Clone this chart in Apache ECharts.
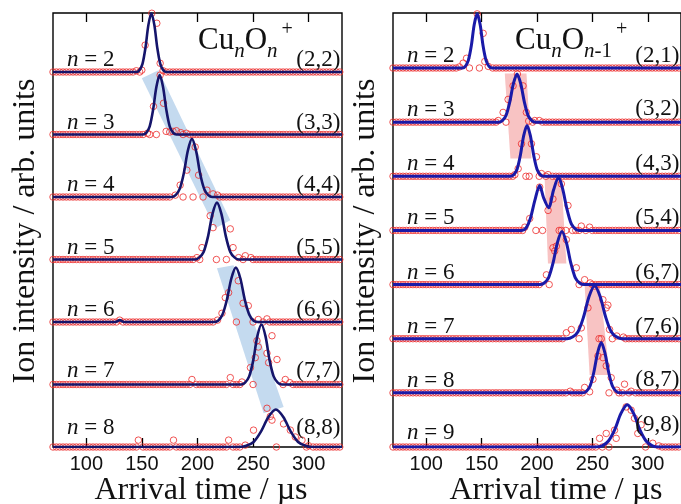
<!DOCTYPE html>
<html>
<head>
<meta charset="utf-8">
<script src="https://cdn.jsdelivr.net/npm/echarts@6/dist/echarts.min.js"></script>
<style>
  html, body { margin: 0; padding: 0; background: #fff; }
  #chart { width: 681px; height: 504px; }
</style>
</head>
<body>
<div id="chart"></div>
<script>
// --- data (arrival time in µs, intensity normalised per trace) ---
const X_TICKS = [100, 150, 200, 250, 300];

// instrument sampling times for the flat parts of each trace
const SAMPLE_T = [70,73,76,79,82,85,88,91,94,97,100,103,106,109,112,115,118,121,124,127,130,
  133,136,139,142,145,148,151,154,157,160,163,166,169,172,175,178,181,184,187,190,193,196,199,
  202,205,208,211,214,217,220,223,226,229,232,235,238,241,244,247,250,253,256,259,262,265,268,
  271,274,277,280,283,286,289,292,295,298,301,304,307,310,313,316,319,322,325,328];

// left panel: CunOn+
const LEFT_N = ["2", "3", "4", "5", "6", "7", "8"];
const LEFT_PAIRS = ["(2,2)", "(3,3)", "(4,4)", "(5,5)", "(6,6)", "(7,7)", "(8,8)"];
const LEFT_DOTS = [
  [[145,0.02],[149.9,0.03],[152.9,0.43],[158.9,0.94],[163.4,0.78],[166.4,0.14],[169,0.02]],
  [[155,0.02],[160.4,0.45],[166.4,0.95],[169.4,0.5],[171.8,0.05],[175,0.04],[178,0.05],[181,0.06],[185,0.03],[190,0.02]],
  [[180,0.03],[184.4,0.19],[190.4,0.43],[197.9,0.8],[201,0.35],[208.5,0.11],[214,0.05],[218,0.03]],
  [[199.5,0.03],[204,0.19],[211.4,0.7],[214,0.51],[229.5,0.49],[232,0.19],[237,0.03],[243,0.06],[248,0.03]],
  [[130,0.03],[218,0.03],[222,0.14],[225,0.39],[228,0.47],[236.7,0.66],[241,0.3],[245.7,0.26],[254.7,0.04],[262.5,0.05]],
  [[195,0.08],[229.5,0.11],[240,0.04],[247.6,0.27],[252,0.43],[253.5,0.7],[254.7,0.6],[262.5,0.5],[264,0.35],[267,0.78],[271.5,0.4],[279,0.08],[283,0.03]],
  [[146.8,0.11],[178.4,0.11],[228,0.11],[243,0.03],[250.4,0.27],[262.5,0.62],[265.5,0.49],[267,0.43],[277.4,0.37],[283.5,0.27],[288,0.16],[294,0.11],[300,0.02]]
];
const LEFT_FITS = [
  [[70,0],[145.2,0],[147.8,0.03],[150.5,0.13],[153.2,0.39],[155.8,0.75],[158.5,0.94],[161.2,0.75],[163.8,0.39],[166.5,0.13],[169.2,0.03],[171.8,0],[330,0]],
  [[70,0],[151,0],[154,0.03],[157,0.13],[160,0.39],[163,0.76],[166,0.95],[169,0.76],[172,0.39],[175,0.13],[178,0.03],[181,0],[330,0]],
  [[70,0],[176.7,0],[180.3,0.03],[184,0.13],[187.7,0.38],[191.3,0.74],[195,0.93],[198.7,0.74],[202.3,0.38],[206,0.13],[209.7,0.03],[213.3,0],[330,0]],
  [[70,0],[197.5,0],[201.5,0.03],[205.5,0.12],[209.5,0.37],[213.5,0.73],[217.5,0.91],[221.5,0.73],[225.5,0.37],[229.5,0.12],[233.5,0.03],[237.5,0],[330,0]],
  [[70,0],[126,0],[130,0.03],[134,0],[214.5,0],[218.5,0.02],[222.5,0.12],[226.5,0.36],[230.5,0.7],[234.5,0.87],[238.5,0.7],[242.5,0.36],[246.5,0.12],[250.5,0.02],[254.5,0],[330,0]],
  [[70,0],[239.2,0],[242.8,0.03],[246.5,0.13],[250.2,0.39],[253.8,0.77],[257.5,0.96],[261.2,0.77],[264.8,0.39],[268.5,0.13],[272.2,0.03],[275.8,0],[330,0]],
  [[70,0],[237.2,0],[243.8,0.02],[250.5,0.08],[257.2,0.25],[263.8,0.48],[270.5,0.6],[277.2,0.48],[283.8,0.25],[290.5,0.08],[297.2,0.02],[303.8,0],[330,0]]
];
const LEFT_BANDS = [
  [[149.9,5.9],[164.9,6.03],[229.5,3.63],[216,3.5]],
  [[217.5,2.86],[232.4,2.91],[277.5,0.64],[259.5,0.54]]
];

// right panel: CunOn-1+
const RIGHT_N = ["2", "3", "4", "5", "6", "7", "8", "9"];
const RIGHT_PAIRS = ["(2,1)", "(3,2)", "(4,3)", "(5,4)", "(6,7)", "(7,6)", "(8,7)", "(9,8)"];
const RIGHT_DOTS = [
  [[130,0.02],[133.3,0.09],[136.4,0.18],[146,1.0],[151.4,0.64],[152.9,0.12],[156,0.03]],
  [[165,0.03],[169.4,0.18],[173.9,0.42],[178.4,0.67],[182.3,0.89],[187.4,0.67],[190.4,0.18],[192.5,0.02],[198,0.03],[202,0.03]],
  [[180,0.03],[183,0.14],[186,0.6],[195,0.6],[199.5,0.36],[204,0.05],[210,0.03]],
  [[189,0.06],[193.4,0.22],[202.4,0.8],[210,0.37],[214.4,0.58],[222,0.86],[228,0.46],[240,0.08],[247.5,0.06]],
  [[208.5,0.18],[214.4,0.68],[216,0.62],[217.5,0.71],[222,1.0],[226.5,0.83],[235.5,0.31],[243,0.09],[248,0.03]],
  [[226.5,0.11],[231,0.17],[240,0.2],[246,0.57],[252,0.97],[259.5,0.72],[262.5,0.57],[264,0.62],[265.5,0.17],[272,0.05],[278,0.03]],
  [[230,0.03],[243,0.1],[247.5,0.02],[250.5,0.25],[255,0.68],[258,1.0],[259.5,0.65],[262.5,0.5],[267,0.28],[272,0.05],[279,0.16],[285,0.03]],
  [[256.5,0.16],[262.5,0.25],[270,0.31],[271.5,0.16],[280.5,0.74],[285,0.68],[288,0.53],[291,0.25],[294,0.41],[304.5,0.07],[310,0.02]]
];
const RIGHT_FITS = [
  [[70,0],[132.7,0],[135.3,0.03],[138,0.14],[140.7,0.41],[143.3,0.8],[146,1.0],[148.7,0.8],[151.3,0.41],[154,0.14],[156.7,0.03],[159.3,0],[330,0]],
  [[70,0],[165.3,0],[168.7,0.03],[172,0.12],[175.3,0.36],[178.7,0.71],[182,0.89],[185.3,0.71],[188.7,0.36],[192,0.12],[195.3,0.03],[198.7,0],[330,0]],
  [[70,0],[176,0],[179,0.03],[182,0.13],[185,0.39],[188,0.75],[191,0.94],[194,0.75],[197,0.39],[200,0.13],[203,0.03],[206,0],[330,0]],
  [[70,0],[186,0],[190,0.04],[194,0.22],[198,0.55],[202.4,0.83],[206,0.6],[210.5,0.42],[215,0.75],[219.5,0.98],[223,0.78],[227,0.4],[231,0.12],[235,0.02],[238,0],[330,0]],
  [[70,0],[202.5,0],[206.5,0.03],[210.5,0.13],[214.5,0.4],[218.5,0.78],[222.5,0.98],[226.5,0.78],[230.5,0.4],[234.5,0.13],[238.5,0.03],[242.5,0],[330,0]],
  [[70,0],[227,0],[232,0.03],[237,0.13],[242,0.4],[247,0.78],[252,0.98],[257,0.78],[262,0.4],[267,0.13],[272,0.03],[277,0],[330,0]],
  [[70,0],[241.3,0],[244.7,0.03],[248,0.13],[251.3,0.38],[254.7,0.74],[258,0.93],[261.3,0.74],[264.7,0.38],[268,0.13],[271.3,0.03],[274.7,0],[330,0]],
  [[70,0],[253.2,0],[258.8,0.02],[264.5,0.11],[270.2,0.32],[275.8,0.62],[281.5,0.78],[287.2,0.62],[292.8,0.32],[298.5,0.11],[304.2,0.02],[309.8,0],[330,0]]
];
const RIGHT_BANDS = [
  [[170.9,6.9],[190.5,6.9],[195,5.33],[176,5.33]],
  [[206.9,4.96],[222,4.96],[226.5,3.39],[209.9,3.39]],
  [[243,2.99],[256.5,2.99],[265.5,1.33],[247.5,1.33]]
];

// --- layout / style ---
const SERIF = "Liberation Serif";
const SANS = "Liberation Sans";
const GRID_W = 289, GRID_H = 434, GRID_TOP = 13;
const panels = [
  { left: 53, ymax: 6.944, n: LEFT_N, pairs: LEFT_PAIRS, dots: LEFT_DOTS, fits: LEFT_FITS,
    bands: LEFT_BANDS, line: "#15156b", band: "#c4daef", lineW: 2.6,
    nLift: [5, 5, 5, 5, 5, 7, 12], pLift: [5, 5, 5, 5, 5, 7, 12] },
  { left: 393, ymax: 8.016, n: RIGHT_N, pairs: RIGHT_PAIRS, dots: RIGHT_DOTS, fits: RIGHT_FITS,
    bands: RIGHT_BANDS, line: "#1a1aa8", band: "#f8c3c3", lineW: 3,
    nLift: [5, 5, 5, 5, 5, 5, 5, 7], pLift: [5, 6, 5, 5, 5, 5, 6, 15] }
];

// time spans where a fitted trace is off its baseline (no flat samples drawn there)
function raisedSpans(fit) {
  const spans = [];
  for (let k = 1; k < fit.length; k++) {
    if (fit[k - 1][1] > 0 || fit[k][1] > 0) spans.push([fit[k - 1][0], fit[k][0]]);
  }
  return spans;
}

const chart = echarts.init(document.getElementById("chart"));

const grid = [], xAxis = [], yAxis = [], series = [];
panels.forEach((p, g) => {
  grid.push({ left: p.left, top: GRID_TOP, width: GRID_W, height: GRID_H, show: true,
    borderColor: "#000", borderWidth: 1.4, backgroundColor: "transparent" });
  xAxis.push({
    gridIndex: g, type: "value", min: 70, max: 330, position: "bottom",
    axisLine: { show: false }, splitLine: { show: false },
    axisTick: { inside: true, length: 9, customValues: X_TICKS, lineStyle: { color: "#000", width: 1.3 } },
    axisLabel: { customValues: X_TICKS, fontFamily: SANS, fontSize: 20, color: "#111", margin: 7 }
  });
  xAxis.push({
    gridIndex: g, type: "value", min: 70, max: 330, position: "top",
    axisLine: { show: false }, splitLine: { show: false },
    axisTick: { inside: true, length: 9, customValues: X_TICKS, lineStyle: { color: "#000", width: 1.3 } },
    axisLabel: { show: false }
  });
  yAxis.push({ gridIndex: g, type: "value", min: 0, max: p.ymax, show: false });

  const xi = g * 2, yi = g;
  series.push({
    type: "custom", xAxisIndex: xi, yAxisIndex: yi, z: 1, silent: true,
    data: p.bands.map(b => b[0]),
    renderItem: (params, api) => ({
      type: "polygon",
      shape: { points: p.bands[params.dataIndex].map(pt => api.coord(pt)) },
      style: { fill: p.band }
    })
  });

  const count = p.n.length;
  p.dots.forEach((dots, i) => {
    const off = count - 1 - i;
    const spans = raisedSpans(p.fits[i]);
    const flat = SAMPLE_T
      .filter(t => !dots.some(d => Math.abs(d[0] - t) < 1.6))
      .filter(t => !spans.some(s => t > s[0] + 1 && t < s[1] - 1))
      .map(t => [t, off]);
    series.push({
      type: "scatter", xAxisIndex: xi, yAxisIndex: yi, z: 2, silent: true,
      symbol: "circle", symbolSize: 6.5,
      itemStyle: { color: "rgba(0,0,0,0)", borderColor: "#ec2a2a", borderWidth: 1 },
      data: flat.concat(dots.map(d => [d[0], d[1] + off]))
    });
    series.push({
      type: "line", xAxisIndex: xi, yAxisIndex: yi, z: 3, silent: true,
      showSymbol: false, smooth: 0.3,
      lineStyle: { color: p.line, width: p.lineW },
      data: p.fits[i].map(d => [d[0], d[1] + off])
    });
  });
});

chart.setOption({ animation: false, grid, xAxis, yAxis, series });

// --- text labels ---
const graphic = [];
panels.forEach((p, g) => {
  const count = p.n.length;
  const toPx = (t, v) => chart.convertToPixel({ xAxisIndex: g * 2, yAxisIndex: g }, [t, v]);
  p.n.forEach((lab, i) => {
    const off = count - 1 - i;
    const a = toPx(82.6, off);
    graphic.push({ type: "text", z: 100, x: a[0], y: a[1] - p.nLift[i] - 7,
      style: { text: "{i|n} = " + lab, rich: { i: { fontStyle: "italic", fontFamily: SERIF, fontSize: 23 } },
        fontFamily: SERIF, fontSize: 23, fill: "#111", align: "left", verticalAlign: "middle" } });
    const b = toPx(328.5, off);
    graphic.push({ type: "text", z: 100, x: b[0], y: b[1] - p.pLift[i] - 7,
      style: { text: p.pairs[i], fontFamily: SERIF, fontSize: 23, fill: "#111", align: "right", verticalAlign: "middle" } });
  });
  // y-axis title
  graphic.push({ type: "text", z: 100, x: p.left - 27, y: 231, rotation: Math.PI / 2,
    style: { text: "Ion intensity / arb. units", fontFamily: SERIF, fontSize: 32, fill: "#111",
      align: "center", verticalAlign: "middle" } });
});

// x-axis titles
[201, 556].forEach(cx => graphic.push({ type: "text", z: 100, x: cx, y: 491,
  style: { text: "Arrival time / µs", fontFamily: SERIF, fontSize: 32, fill: "#111", align: "center", verticalAlign: "middle" } }));

// panel titles
const titleRich = {
  m: { fontFamily: SERIF, fontSize: 31, fill: "#111" },
  s: { fontFamily: SERIF, fontSize: 21, fontStyle: "italic", padding: [22, 0, 0, 0], fill: "#111" },
  r: { fontFamily: SERIF, fontSize: 21, padding: [22, 0, 0, 0], fill: "#111" },
  p: { fontFamily: SERIF, fontSize: 20, padding: [0, 0, 22, 4], fill: "#111" }
};
graphic.push({ type: "text", z: 100, x: 198, y: 40.5,
  style: { text: "{m|Cu}{s|n}{m|O}{s|n}{p|+}", rich: titleRich, align: "left", verticalAlign: "middle" } });
graphic.push({ type: "text", z: 100, x: 515, y: 40.5,
  style: { text: "{m|Cu}{s|n}{m|O}{s|n}{r|-1}{p|+}", rich: titleRich, align: "left", verticalAlign: "middle" } });

chart.setOption({ graphic });
</script>
</body>
</html>
